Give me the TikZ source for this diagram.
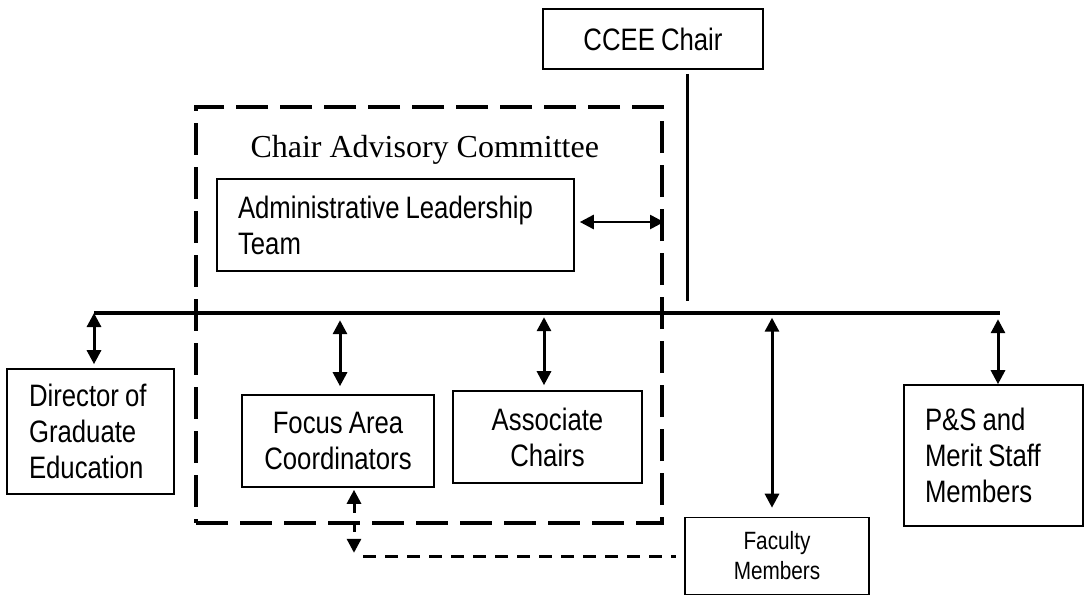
\documentclass[tikz,border=0pt]{standalone}
\usepackage{fontspec}
\setmainfont{Liberation Serif}
\newfontfamily\boxfont[FakeStretch=0.83,WordSpace=0.85]{Liberation Sans}
\usetikzlibrary{arrows.meta}
\begin{document}
\begin{tikzpicture}[x=1pt,y=-1pt,
  box/.style={draw, line width=1.6pt, inner sep=0pt, font=\boxfont\fontsize{31}{36}\selectfont},
  smallbox/.style={box, font=\boxfont\fontsize{25}{30}\selectfont},
  dar/.style={line width=3pt, {Triangle[length=14pt,width=14pt]}-{Triangle[length=14pt,width=14pt]}},
  thinar/.style={line width=2.6pt, {Triangle[length=14pt,width=14pt]}-{Triangle[length=14pt,width=14pt]}},
  bus/.style={line width=4pt},
  cacbox/.style={draw, line width=4pt, dash pattern=on 32pt off 12pt, inner sep=0pt},
  dline/.style={line width=3pt, dash pattern=on 13pt off 9pt}]
\useasboundingbox (0,0) rectangle (1085,595);

% boxes
\node[box, minimum width=220pt, minimum height=60pt] (ccee) at (653,39) {CCEE Chair};
\node[cacbox, minimum width=466pt, minimum height=416pt] (cac) at (429,315) {};
\node[anchor=base west, font=\fontsize{32}{38}\selectfont] (cactitle) at (247,157) {Chair Advisory Committee};
\node[box, minimum width=357pt, minimum height=92pt, text width=315pt, align=flush left] (admin) at (395.5,225) {Administrative Leadership\\Team};
\node[box, minimum width=167pt, minimum height=125pt, text width=123pt, align=flush left] (dir) at (90.5,431.5) {Director of\\Graduate\\Education};
\node[box, minimum width=192pt, minimum height=92pt, align=flush center] (focus) at (338,441) {Focus Area\\Coordinators};
\node[box, minimum width=189pt, minimum height=92pt, align=flush center] (assoc) at (547.5,437) {Associate\\Chairs};
\node[smallbox, minimum width=184pt, minimum height=77pt, align=flush center] (fac) at (777,556) {Faculty\\Members};
\node[box, minimum width=179pt, minimum height=141pt, text width=137pt, align=flush left] (ps) at (993.5,455.5) {P\&S and\\Merit Staff\\Members};

% bus line
\coordinate (busL) at (94,313);
\coordinate (busR) at (1000,313);
\draw[bus] (busL) -- (busR);
\draw[line width=3pt] ([xshift=34pt,yshift=-4pt]ccee.south) -- ([xshift=34pt,yshift=-231pt]ccee.south);

% arrows
\draw[dar] (busL) -- ([yshift=4pt]busL |- dir.north);
\draw[dar] ([xshift=2pt,yshift=74pt]focus.north) -- ([xshift=2pt,yshift=8pt]focus.north);
\draw[dar] ([xshift=-3.5pt,yshift=73pt]assoc.north) -- ([xshift=-3.5pt,yshift=5pt]assoc.north);
\draw[dar] ([xshift=-5pt,yshift=199pt]fac.north) -- ([xshift=-5pt,yshift=9pt]fac.north);
\draw[dar] ([xshift=4.5pt,yshift=65pt]ps.north) -- ([xshift=4.5pt]ps.north);
\draw[thinar] ([xshift=5pt,yshift=3pt]admin.east) -- ([yshift=3pt]admin.east -| cac.east);

% dashed link focus -- faculty
\draw[dar, dash pattern=on 10pt off 9pt] ([xshift=16pt,yshift=-2pt]focus.south) -- ([xshift=16pt,yshift=-65pt]focus.south);
\draw[dline] ([xshift=25pt]focus.south |- fac.west) -- ([xshift=-8pt]fac.west);
\end{tikzpicture}
\end{document}
